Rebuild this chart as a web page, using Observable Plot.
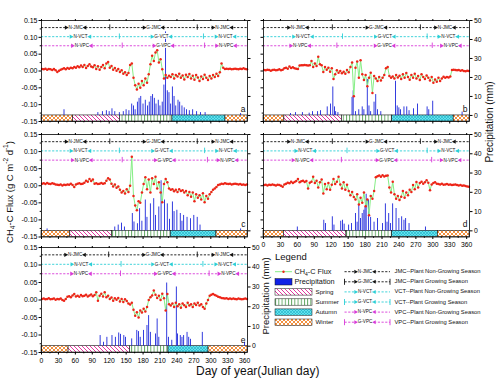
<!DOCTYPE html>
<html><head><meta charset="utf-8">
<script src="https://cdn.jsdelivr.net/npm/d3@7"></script>
<script src="https://cdn.jsdelivr.net/npm/@observablehq/plot@0.6"></script>
<style>
html,body{margin:0;padding:0;background:#fff;}
#fig{position:relative;width:500px;height:389px;overflow:hidden;font-family:"Liberation Sans",Arial,sans-serif;background:#fff;}
#fig > svg{position:absolute;}
</style></head><body>
<svg width="0" height="0" style="position:absolute">
<defs>
<pattern id="pSpring" patternUnits="userSpaceOnUse" width="4" height="4">
<rect width="4" height="4" fill="#fff"/>
<path d="M-1,-1 L5,5 M-1,3 L1,5 M3,-1 L5,1" stroke="#e2379f" stroke-width="1"/>
</pattern>
<pattern id="pSummer" patternUnits="userSpaceOnUse" width="3.2" height="4">
<rect width="3.2" height="4" fill="#fff"/>
<path d="M0.5,0 L0.5,4" stroke="#2f8a2f" stroke-width="0.8"/>
</pattern>
<pattern id="pAutumn" patternUnits="userSpaceOnUse" width="3" height="3">
<rect width="3" height="3" fill="#62e2ee"/>
<path d="M0,0 L3,3 M3,0 L0,3" stroke="#1fb0c4" stroke-width="0.6"/>
</pattern>
<pattern id="pWinter" patternUnits="userSpaceOnUse" width="4" height="4">
<rect width="4" height="4" fill="#fff"/>
<path d="M0,0 L4,4 M4,0 L0,4" stroke="#f0842a" stroke-width="0.9"/>
</pattern>
</defs></svg>
<div id="fig"></div>
<script>
const FONT = '"Liberation Sans", Arial, Helvetica, sans-serif';

// ---- shared axes / ticks ----
const FLUX_DAYS = d3.range(1, 366, 3);
const X_TICKS = [0,30,60,90,120,150,180,210,240,270,300,330,360];
const X_MINOR = [15,45,75,105,135,165,195,225,255,285,315,345];
const Y_TICKS = [-0.15,-0.10,-0.05,0,0.05,0.10,0.15];
const Y_MINOR = [-0.125,-0.075,-0.025,0.025,0.075,0.125];
const MM_TICKS = [0,10,20,30,40,50];
const MM_BASE = -0.132, MM_PER = 0.00564;
const SEASON_NAMES = ["Winter","Spring","Summer","Autumn","Winter"];
const SEASON_FILL = {Winter:"url(#pWinter)", Spring:"url(#pSpring)", Summer:"url(#pSummer)", Autumn:"url(#pAutumn)"};
const PHASES = [
  {key:"JMC", y:0.129, color:"#111111"},
  {key:"VCT", y:0.102, color:"#2ccfd6"},
  {key:"VPC", y:0.075, color:"#d83ad8"}
];

// ---- panel a ----
const fluxA = [.006,.005,.007,.004,.006,.005,.003,.006,.002,-.003,.001,.004,
.006,.008,.005,.009,.007,.01,.008,
.012,.01,.014,.011,.016,.012,.018,.009,.015,.02,.013,.011,
.017,.006,.014,.004,.012,.018,.008,.022,.027,.01,
.015,.004,.009,.001,.006,-.003,.002,-.008,-.004,-.012,-.006,
.018,.022,-.02,-.042,-.055,-.038,-.05,-.03,-.042,-.022,-.035,-.01,
.02,.045,.03,.055,.062,.025,.035,.005,
-.022,-.012,-.02,-.014,-.018,-.01,-.022,-.012,-.016,-.008,-.02,-.013,-.025,-.011,-.018,-.009,-.022,-.014,-.026,-.012,-.019,-.03,-.016,-.024,-.011,-.02,-.027,-.015,-.022,-.012,-.018,-.008,-.015,-.004,
.022,.01,.006,.007,.006,.007,.005,.006,.007,.006,.005,.007,.006,.008,.006,.005];
const precipA = [[40,3],[100,1.5],[108,2],[115,2.5],[120,2],[125,3.5],[130,2],[138,1.5],[145,2],[150,3],[155,2.5],[160,6],[163,5],[166,3],[170,7],[173,9],[176,10],[180,6],[184,8],[188,5],[191,7],[194,10],[197,11],[200,9],[203,6],[207,8],[210,5],[214,7],[217,16],[220,44],[223,13],[226,12],[229,6],[232,15],[235,10],[238,5],[242,8],[245,7],[249,5],[253,4],[257,3],[262,2.5],[268,3],[275,2],[282,1.5],[290,1.5],[353,1]];
const seasonsA = [56,139,232,326];
const phasesA = {JMC:[121,276], VCT:[138,287], VPC:[143,289]};

// ---- panel b ----
const fluxB = [.003,.002,.004,.003,.001,.003,.004,.002,.003,.005,.002,.004,
.008,.01,.007,.013,.009,.011,.008,
.007,.006,
.016,.017,.017,.018,.017,.016,.017,
.03,.012,.022,.015,.042,.02,.017,-.003,.012,.004,.01,-.002,.008,
-.024,-.01,.002,-.005,0,-.007,-.002,-.008,.003,-.004,.012,
.025,-.075,.01,.028,-.02,.032,-.01,-.027,-.012,-.045,-.02,-.005,-.065,-.015,-.022,-.03,-.018,-.028,-.02,-.012,
.008,.012,-.015,-.02,-.016,-.022,-.012,-.019,-.014,-.024,-.01,-.02,-.006,-.018,-.026,-.012,-.02,-.008,-.022,-.015,-.027,-.01,-.018,-.024,-.013,-.02,-.028,-.018,-.035,-.025,-.032,-.02,-.03,-.022,-.017,-.02,-.018,-.019,-.016,
.003,.004,.003,.002,.003,.001,.002,0,-.001,.001,0];
const precipB = [[48,1],[57,1.5],[69,1.5],[81,1.2],[87,2],[96,2],[101,2.5],[113,4.5],[119,6],[123,15],[126,4.5],[128,2],[132,1.5],[157,9.5],[159,13],[163,2],[169,3],[175,4.5],[178,3],[184,19],[187,5],[190,2],[196,7],[199,11],[202,3],[208,2],[234,18],[237,5],[240,4],[243,3],[249,4.5],[254,4.5],[258,2.5],[266,3.5],[273,6],[290,4.5],[293,3],[300,7.5],[352,1.8]];
const seasonsB = [37,139,228,337];
const phasesB = {JMC:[122,278], VCT:[140,290], VPC:[130,299]};

// ---- panel c ----
const fluxC = [.006,.007,.005,.008,.006,.005,.007,.006,.004,
.003,.002,.004,.001,.003,.002,.004,.003,
.006,.002,-.004,.004,.006,.007,.005,.006,
.009,.015,.012,.02,.014,.018,.006,
.007,.005,.006,.008,.006,.007,
.015,.022,.018,.006,-.002,.004,-.006,-.002,-.012,-.02,-.015,-.023,-.01,-.018,0,
.085,-.03,-.058,-.072,-.045,-.05,-.02,.005,.025,-.01,.018,-.02,.022,.005,.026,-.008,.01,-.02,-.048,
.005,.02,.01,-.008,-.012,-.01,-.016,-.012,-.018,-.01,-.015,-.013,-.02,-.015,-.028,-.018,-.032,-.02,-.045,-.025,-.035,-.028,-.04,-.022,-.048,-.03,-.038,-.025,-.018,-.012,-.008,-.004,.002,
.004,.006,.005,.007,.006,.005,.006,.004,.005,.006,.005,.004,.005,.003,.004,.002,.004];
const precipC = [[10,1],[130,2],[136,3],[142,4],[147,2],[161,9],[164,4.6],[170,3.7],[174,11.5],[178,5],[184,16],[187,7],[193,14],[199,16.7],[202,8],[208,12.4],[212,26],[218,16],[223,14],[227,6],[232,15],[235,10],[240,10.7],[246,9],[249,5],[252,8],[258,7],[264,6.3],[270,8],[276,7],[281,3],[353,1]];
const seasonsC = [51,125,229,310];
const phasesC = {JMC:[121,276], VCT:[138,289], VPC:[143,294]};

// ---- panel d ----
const fluxD = [.002,.003,.001,.003,.002,.004,.002,.001,.003,.002,0,
-.003,.004,
.006,.009,.007,.012,.008,.011,
.014,.02,.01,.013,.015,.011,.014,
-.008,.009,.012,.026,.008,.015,-.005,.01,.018,-.023,.005,-.01,.008,-.012,.003,
.02,.005,.012,.026,.004,-.008,.01,-.012,.003,-.015,
-.028,-.018,-.033,-.04,-.025,-.055,-.035,-.05,-.02,-.06,-.04,-.086,-.03,-.038,-.015,
.025,.028,.03,.026,.031,.027,.029,.03,
-.005,-.02,.012,-.025,-.038,-.03,-.042,-.032,-.015,-.035,-.02,-.028,-.012,-.018,.002,-.01,.011,-.005,.008,.012,.006,.01,.016,.009,-.013,.004,.008,.01,.006,
.005,.004,.006,.003,.004,.005,.003,.004,.002,.003,.004,.002,.001,.002,0,.001,-.001,-.002,-.003];
const precipD = [[60,2],[107,5.5],[110,3.8],[122,7.3],[125,3],[137,5],[140,5.5],[143,3.5],[151,3],[156,3.8],[163,9],[166,4.5],[169,14],[172,6.4],[175,9],[178,10.7],[180,12.4],[182,19],[186,16],[190,7],[196,4.5],[202,6.4],[211,3.8],[216,14],[219,4.5],[222,9],[225,3.8],[229,14],[235,11.6],[240,6.4],[245,7.3],[249,5.5],[252,6.4],[258,3.8],[287,2]];
const seasonsD = [36,147,228,309];
const phasesD = {JMC:[122,278], VCT:[148,290], VPC:[138,298]};

// ---- panel e ----
const fluxE = [.003,.004,.002,.003,.005,.002,.003,.004,.001,.003,.002,.004,0,-.002,.003,
.009,.011,.008,.013,.017,.01,.012,.009,.014,.011,
.012,.015,.01,.013,.016,.011,.014,
.022,-.002,.012,.018,.01,.022,.008,.012,.003,.007,-.002,.005,.001,.006,-.004,.003,-.006,.002,-.003,-.01,-.013,-.008,
-.028,-.045,-.035,-.05,-.03,-.036,-.025,-.033,-.02,0,.008,.013,.027,.015,.006,.012,0,.018,.005,
-.03,.017,-.012,-.016,-.01,-.02,-.008,-.018,-.012,-.022,-.01,-.015,-.02,-.008,-.016,-.012,-.02,-.01,-.014,-.008,-.016,-.012,-.02,-.025,-.01,0,.012,.015,.017,.014,.012,
.009,.008,.006,.005,.004,.005,.003,.004,.003,.004,.003,.002,.004,.003,.002,.003,.004,.003];
const precipE = [[104,5.4],[110,2],[116,4.5],[125,5.4],[131,4.5],[137,6.7],[140,6],[146,5.4],[149,4.5],[160,3.7],[169,8],[172,7.4],[175,4.5],[181,8],[187,10.5],[190,15.5],[193,7],[202,6.2],[205,13.8],[208,4.5],[222,32],[225,4.5],[231,3],[239,30],[241,6.2],[246,5.4],[249,4.5],[252,5.4],[258,7],[261,4.5],[264,3.5],[285,7],[360,2]];
const seasonsE = [48,157,225,296];
const phasesE = {JMC:[119,276], VCT:[141,286], VPC:[140,297]};

// ---- legend texts ----
const LEGEND_LEFT = ["CH4-C Flux","Precipitation","Spring","Summer","Autumn","Winter"];
const LEGEND_RIGHT = ["JMC--Plant Non-Growing Season","JMC--Plant Growing Season","VCT--Plant Non-Growing Season","VCT--Plant Growing Season","VPC--Plant Non-Growing Season","VPC--Plant Growing Season"];

const fig = document.getElementById("fig");
const blank = () => "";

function panel(p) {
  const flux = p.flux.map((v, i) => ({day: FLUX_DAYS[i], v}));
  const bounds = [0, ...p.seasons, 365];
  const seasonRows = SEASON_NAMES.map((name, i) => ({start: bounds[i], end: bounds[i + 1], fill: SEASON_FILL[name]}));
  const marks = [
    Plot.rect(seasonRows, {x1: "start", x2: "end", y1: -0.15, y2: MM_BASE, fill: "fill", stroke: "#111", strokeWidth: 0.6}),
    Plot.rect(p.precip, {x1: d => d[0], x2: d => d[0] + 1.5, y1: MM_BASE, y2: d => MM_BASE + d[1] * MM_PER, fill: "#0f1ad8"})
  ];
  for (const ph of PHASES) {
    const [s, e] = p.phases[ph.key];
    const segs = [[0, s, "N-"], [s, e, "G-"], [e, 365, "N-"]].map(([a, b, pre]) => ({mid: (a + b) / 2, label: pre + ph.key}));
    marks.push(
      Plot.ruleY([ph.y], {y: d => d, x1: 0, x2: 365, stroke: ph.color, strokeWidth: 0.9, strokeDasharray: "2.2,1.5"}),
      Plot.text(segs, {x: "mid", y: ph.y, text: "label", fontSize: 4.6, fill: "#111", stroke: "white", strokeWidth: 2.2, paintOrder: "stroke", fontFamily: FONT}),
      Plot.dot(segs, {x: "mid", y: ph.y, dx: -9.5, symbol: "triangle", r: 1.6, rotate: 90, fill: ph.color}),
      Plot.dot(segs, {x: "mid", y: ph.y, dx: 9.5, symbol: "triangle", r: 1.6, rotate: -90, fill: ph.color}),
      Plot.ruleX([s, e], {x: d => d, y1: ph.y - 0.008, y2: ph.y + 0.008, stroke: ph.color, strokeWidth: 0.9})
    );
  }
  marks.push(
    Plot.line(flux, {x: "day", y: "v", stroke: "#86ee86", strokeWidth: 1}),
    Plot.dot(flux, {x: "day", y: "v", r: 1.25, fill: "#ee2418"}),
    Plot.frame({stroke: "#000", strokeWidth: 0.8}),
    Plot.axisY(Y_TICKS, {anchor: "left", tickSize: 2.5, tickPadding: 1.5, fontSize: 7, label: null,
      tickFormat: p.leftLabels ? d => d.toFixed(2) : blank}),
    Plot.axisY(Y_MINOR, {anchor: "left", tickSize: 1.3, tickFormat: blank, label: null}),
    Plot.axisY(MM_TICKS.map(m => MM_BASE + m * MM_PER), {anchor: "right", tickSize: 2.5, tickPadding: 2, fontSize: 6.8, label: null,
      tickFormat: p.rightLabels ? v => String(Math.round((v - MM_BASE) / MM_PER)) : blank}),
    Plot.axisX(X_TICKS, {anchor: "bottom", tickSize: 2.5, tickPadding: 3, fontSize: 6.8, label: null,
      tickFormat: p.bottomLabels ? d => String(d) : blank}),
    Plot.axisX(X_MINOR, {anchor: "bottom", tickSize: 1.3, tickFormat: blank, label: null}),
    Plot.axisX(X_TICKS, {anchor: "top", tickSize: 2, tickFormat: blank, label: null}),
    Plot.text([p.letter], {frameAnchor: "bottom-right", dx: -2, dy: -10, text: d => d, fontSize: 8.5, fill: "#111", fontFamily: FONT})
  );
  const svg = Plot.plot({
    width: p.w, height: p.h,
    marginLeft: p.ml, marginRight: p.mr, marginTop: p.mt, marginBottom: p.mb,
    x: {domain: [0, 365]}, y: {domain: [-0.15, 0.15]},
    color: {type: "identity"},
    style: {background: "transparent", overflow: "visible", fontFamily: FONT, fontSize: "7px"},
    marks
  });
  svg.style.left = p.left + "px";
  svg.style.top = p.top + "px";
  fig.appendChild(svg);
}

panel({flux: fluxA, precip: precipA, seasons: seasonsA, phases: phasesA, letter: "a",
  left: 0, top: 0, w: 250, h: 130, ml: 41, mr: 3, mt: 20, mb: 9, leftLabels: true});
panel({flux: fluxB, precip: precipB, seasons: seasonsB, phases: phasesB, letter: "b",
  left: 250, top: 0, w: 250, h: 130, ml: 13, mr: 31, mt: 20, mb: 9, rightLabels: true});
panel({flux: fluxC, precip: precipC, seasons: seasonsC, phases: phasesC, letter: "c",
  left: 0, top: 128, w: 250, h: 126, ml: 41, mr: 3, mt: 6, mb: 17.5, leftLabels: true});
panel({flux: fluxD, precip: precipD, seasons: seasonsD, phases: phasesD, letter: "d",
  left: 250, top: 128, w: 250, h: 126, ml: 13, mr: 31, mt: 6, mb: 17.5, rightLabels: true, bottomLabels: true});
panel({flux: fluxE, precip: precipE, seasons: seasonsE, phases: phasesE, letter: "e",
  left: 0, top: 240, w: 280, h: 125, ml: 41, mr: 33, mt: 7, mb: 13, leftLabels: true, rightLabels: true, bottomLabels: true});

// ---- overlay: axis titles and legend ----
const ov = d3.select(fig).append("svg")
  .attr("width", 500).attr("height", 389)
  .style("left", "0px").style("top", "0px").style("pointer-events", "none")
  .attr("font-family", FONT).attr("fill", "#111");

const yTitle = ov.append("text").attr("transform", "translate(10,192) rotate(-90)")
  .attr("text-anchor", "middle").attr("dominant-baseline", "middle").attr("font-size", 9.5);
yTitle.append("tspan").text("CH");
yTitle.append("tspan").attr("baseline-shift", "sub").attr("font-size", 6.5).text("4");
yTitle.append("tspan").text("-C Flux (g C m");
yTitle.append("tspan").attr("baseline-shift", "super").attr("font-size", 6.5).text("-2");
yTitle.append("tspan").text(" d");
yTitle.append("tspan").attr("baseline-shift", "super").attr("font-size", 6.5).text("-1");
yTitle.append("tspan").text(")");

ov.append("text").attr("transform", "translate(490,122) rotate(-90)")
  .attr("text-anchor", "middle").attr("dominant-baseline", "middle").attr("font-size", 10)
  .text("Precipitation (mm)");
ov.append("text").attr("transform", "translate(266,296) rotate(-90)")
  .attr("text-anchor", "middle").attr("dominant-baseline", "middle").attr("font-size", 9.5)
  .text("Precipitation (mm)");
ov.append("text").attr("x", 196).attr("y", 375).attr("font-size", 12).text("Day of year(Julian day)");

// legend
ov.append("text").attr("x", 275).attr("y", 260).attr("font-size", 9.5).text("Legend");
const rowY = i => 271.7 + i * 10.1;
const fills = [null, "#1020e6", "url(#pSpring)", "url(#pSummer)", "url(#pAutumn)", "url(#pWinter)"];
LEGEND_LEFT.forEach((label, i) => {
  const y = rowY(i);
  if (i === 0) {
    ov.append("line").attr("x1", 275).attr("x2", 292).attr("y1", y).attr("y2", y).attr("stroke", "#86ee86").attr("stroke-width", 1);
    ov.append("circle").attr("cx", 283.5).attr("cy", y).attr("r", 1.2).attr("fill", "#ee2418");
    const t = ov.append("text").attr("x", 294.5).attr("y", y).attr("dominant-baseline", "middle").attr("font-size", 7.3);
    t.append("tspan").text("CH");
    t.append("tspan").attr("baseline-shift", "sub").attr("font-size", 5).text("4");
    t.append("tspan").text("-C Flux");
  } else if (i === 1) {
    ov.append("rect").attr("x", 275).attr("y", y - 3.2).attr("width", 17).attr("height", 6.4).attr("fill", fills[i]).attr("stroke", "#111").attr("stroke-width", 0.5);
    ov.append("text").attr("x", 294.5).attr("y", y).attr("dominant-baseline", "middle").attr("font-size", 7.3).text(label);
  } else {
    ov.append("rect").attr("x", 275).attr("y", y - 3.2).attr("width", 37).attr("height", 6.4).attr("fill", fills[i]).attr("stroke", "#111").attr("stroke-width", 0.5);
    ov.append("text").attr("x", 315.5).attr("y", y).attr("dominant-baseline", "middle").attr("font-size", 6.2).text(label);
  }
});
LEGEND_RIGHT.forEach((label, i) => {
  const y = rowY(i);
  const ph = PHASES[Math.floor(i / 2)];
  const growing = i % 2 === 1;
  ov.append("line").attr("x1", 344.5).attr("x2", 390).attr("y1", y).attr("y2", y)
    .attr("stroke", ph.color).attr("stroke-width", 0.9).attr("stroke-dasharray", "2.2,1.5");
  if (growing) {
    [344.5, 390].forEach(x => ov.append("line").attr("x1", x).attr("x2", x).attr("y1", y - 3).attr("y2", y + 3)
      .attr("stroke", ph.color).attr("stroke-width", 0.9));
  }
  const lab = (growing ? "G-" : "N-") + ph.key;
  ov.append("text").attr("x", 365).attr("y", y).attr("text-anchor", "middle").attr("dominant-baseline", "middle")
    .attr("font-size", 4.6).attr("stroke", "white").attr("stroke-width", 2.2).attr("paint-order", "stroke").text(lab);
  const tri = d3.symbol(d3.symbolTriangle, 7)();
  ov.append("path").attr("d", tri).attr("fill", ph.color).attr("transform", `translate(355.5,${y}) rotate(90)`);
  ov.append("path").attr("d", tri).attr("fill", ph.color).attr("transform", `translate(374.5,${y}) rotate(-90)`);
  ov.append("text").attr("x", 394.5).attr("y", y).attr("dominant-baseline", "middle").attr("font-size", 5.8).text(label);
});
</script>
</body></html>
